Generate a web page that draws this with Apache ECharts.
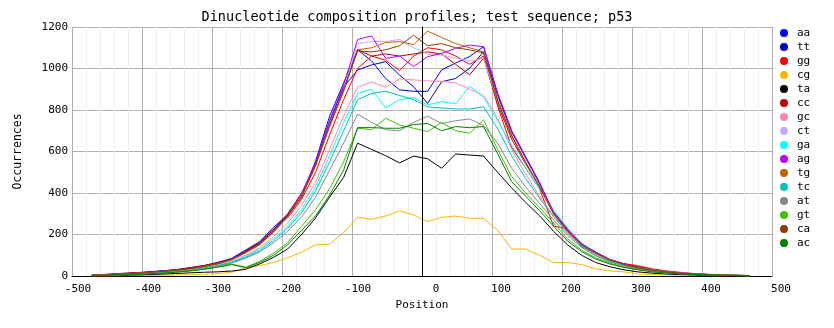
<!DOCTYPE html>
<html>
<head>
<meta charset="utf-8">
<script src="https://cdn.jsdelivr.net/npm/echarts@6/dist/echarts.min.js"></script>
<style>html,body{margin:0;padding:0;background:#fff;}#c{width:834px;height:328px;}</style>
</head>
<body>
<div id="c"></div>
<script>
var positions = [-472,-452,-432,-412,-392,-372,-352,-332,-312,-292,-272,-252,-232,-212,-192,-172,-152,-132,-112,-92,-72,-52,-32,-12,8,28,48,68,88,108,128,148,168,188,208,228,248,268,288,308,328,348,368,388,408,428,448,468];

var aa = [5,8,12,15,20,25,30,40,50,65,85,125,165,235,295,385,555,770,930, 1090,1036,952,897,890,890,993,1026,1058,1105, 880,700,575,450,305,225,155,115,80,58,42,30,22,15,10,7,5,3,2];
var tt = [3,6,10,14,18,24,30,38,48,62,80,120,160,225,290,380,540,745,910, 993,1017,1033,968,912,832,936,952,1001,1081, 870,695,570,445,300,220,150,110,78,56,40,28,20,14,10,7,5,3,2];
var gg = [2,5,12,15,18,22,28,36,48,60,82,118,158,220,280,370,500,680,850, 1000,1060,1040,990,1060,1100,1090,1060,1020,1060, 820,620,520,420,240,228,140,112,70,60,50,35,25,18,12,8,6,4,2];
var cg = [0,0,1,2,3,4,5,6,8,11,18,38,50,65,88,115,150,153,210, 283,273,289,314,294,262,283,289,278,278, 220,130,130,100,65,65,55,35,25,20,10,8,5,5,3,2,1,1,0];
var ta = [1,2,3,5,7,9,12,15,18,20,24,32,58,90,130,200,280,380,475, 640,610,580,545,578,565,519,588,583,578, 500,425,355,290,215,150,100,65,45,30,20,14,10,7,5,3,2,1,1];
var cc = [3,6,10,14,18,22,28,40,50,65,80,120,160,225,300,400,540,720,890, 1090,1060,1070,1060,1070,1080,1070,1020,970,1050, 830,660,540,430,305,220,155,115,80,60,45,32,22,15,10,7,5,3,2];
var gc = [2,4,7,10,14,18,24,32,42,55,72,100,135,190,255,340,450,610,770, 910,935,910,950,945,940,938,930,900,870, 760,610,490,385,290,210,150,105,75,55,40,28,20,14,10,7,5,3,2];
var ct = [3,5,9,12,16,20,26,34,45,58,78,110,150,210,285,385,530,730,900, 1120,1130,1130,1140,1100,1070,1065,1050,1035,1050, 840,680,545,430,300,215,150,110,78,56,40,30,22,16,12,8,5,3,2];
var ga = [2,4,7,10,13,17,22,30,40,52,68,95,128,180,240,320,430,580,740, 880,900,810,850,860,825,840,830,915,860, 750,630,520,420,320,230,160,112,78,56,40,28,20,14,10,7,5,3,2];
var ag = [2,4,8,12,16,20,26,34,46,60,80,115,155,215,290,395,550,750,920, 1140,1157,1049,1060,1009,1057,1073,1097,1113,1105, 880,700,570,445,310,225,155,115,80,58,42,30,22,16,11,8,5,3,2];
var tg = [3,5,8,12,15,20,26,34,45,58,78,112,150,212,285,380,530,725,895, 1090,1100,1125,1130,1115,1180,1150,1120,1100,1080, 850,680,550,430,300,215,150,110,78,56,40,28,20,14,10,7,5,3,2];
var tc = [2,3,6,9,12,16,21,28,38,50,65,90,122,170,230,305,410,550,700, 850,880,890,870,850,815,810,805,805,815, 710,580,470,375,285,205,145,100,72,52,37,26,18,13,9,6,4,3,2];
var at = [2,3,6,9,12,15,20,27,36,47,62,85,115,160,215,285,380,510,640, 780,740,705,700,740,770,735,748,757,725, 640,520,430,350,270,195,138,97,68,48,35,25,17,12,8,6,4,3,1];
var gt = [1,3,5,8,11,14,19,25,33,44,58,42,70,110,160,240,320,420,550, 712,705,760,728,712,696,740,700,688,752, 610,480,400,330,255,180,125,88,62,44,32,22,15,11,8,5,4,2,1];
var ca = [3,5,8,12,16,22,28,36,46,60,80,115,155,215,290,385,535,730,900, 1085,1080,1090,1110,1160,1110,1120,1100,1090,1075, 845,675,548,428,300,215,150,110,78,56,40,28,20,14,10,7,5,3,2];
var ac = [1,3,5,7,10,13,18,24,32,42,55,40,65,100,150,220,290,390,510, 715,715,712,712,730,735,700,720,715,720, 590,455,385,315,240,168,118,82,58,42,30,20,14,10,7,5,3,2,1];

var names = ['aa','tt','gg','cg','ta','cc','gc','ct','ga','ag','tg','tc','at','gt','ca','ac'];
var valuesList = [aa,tt,gg,cg,ta,cc,gc,ct,ga,ag,tg,tc,at,gt,ca,ac];
var colors = ['#0000ff','#0000c0','#ff0000','#ffb400','#000000','#c00000','#ff88aa','#c8a8ff','#00ffff','#c000ff','#c06000','#00c0c0','#888888','#40c000','#884000','#008000'];

var xTicks = [-500,-400,-300,-200,-100,0,100,200,300,400,500];
var yTicks = [0,200,400,600,800,1000,1200];

var FONT = 'DejaVu Sans Mono';
var series = names.map(function(n, i){
  return {
    name: n, type: 'line', showSymbol: false, symbol: 'circle',
    lineStyle: {width: 1, color: colors[i]},
    itemStyle: {color: colors[i]},
    data: positions.map(function(p, j){ return [p, valuesList[i][j]]; }),
    z: 2
  };
});
series.push({
  type: 'line', data: [], silent: true,
  markLine: {symbol: 'none', silent: true, label: {show: false},
    lineStyle: {color: '#000', width: 1, type: 'solid'},
    data: [{xAxis: 0}]}
});

var chart = echarts.init(document.getElementById('c'), null, {renderer: 'canvas'});
chart.setOption({
  animation: false,
  backgroundColor: '#ffffff',
  title: {text: 'Dinucleotide composition profiles; test sequence; p53', left: 'center', top: 5,
    textStyle: {fontFamily: FONT, fontSize: 13.5, fontWeight: 'normal', color: '#000'}},
  grid: {left: 72, right: 62, top: 27, bottom: 52},
  legend: {orient: 'vertical', left: 780, top: 26, padding: 0, itemWidth: 8, itemHeight: 8, itemGap: 0, icon: 'circle',
    textStyle: {fontFamily: FONT, fontSize: 11, color: '#000', lineHeight: 14, padding: [0, 0, 0, 4]}, data: names},
  xAxis: {type: 'value', min: xTicks[0], max: xTicks[xTicks.length-1], interval: 100,
    name: 'Position', nameLocation: 'middle', nameGap: 20,
    nameTextStyle: {fontFamily: FONT, fontSize: 11, color: '#000'},
    axisLine: {lineStyle: {color: '#000'}}, axisTick: {show: false},
    axisLabel: {fontFamily: FONT, fontSize: 11, color: '#000', margin: 8,
      formatter: function(v){
        if (v === 0) return '{z|0}';
        return (v < 0 ? '{n|' : '{p|') + v + '}';
      },
      rich: {
        z: {fontFamily: FONT, fontSize: 11, color: '#000', padding: [0, 0, 0, 28]},
        n: {fontFamily: FONT, fontSize: 11, color: '#000', padding: [0, 0, 0, 12]},
        p: {fontFamily: FONT, fontSize: 11, color: '#000', padding: [0, 0, 0, 18]}
      }},
    splitLine: {show: true, lineStyle: {color: '#b0b0b0', width: 1}},
    minorTick: {show: false, splitNumber: 5},
    minorSplitLine: {show: true, lineStyle: {color: '#efefef', width: 1}}},
  yAxis: {type: 'value', min: yTicks[0], max: yTicks[yTicks.length-1], interval: 200,
    name: 'Occurrences', nameLocation: 'middle', nameGap: 48, nameRotate: 90,
    nameTextStyle: {fontFamily: FONT, fontSize: 11.5, color: '#000'},
    axisLine: {show: true, lineStyle: {color: '#000'}}, axisTick: {show: false},
    axisLabel: {fontFamily: FONT, fontSize: 11, color: '#000', margin: 4,
      formatter: function(v){ return String(v); }},
    splitLine: {show: true, lineStyle: {color: '#b0b0b0', width: 1}}},
  series: series
});
</script>
</body>
</html>
